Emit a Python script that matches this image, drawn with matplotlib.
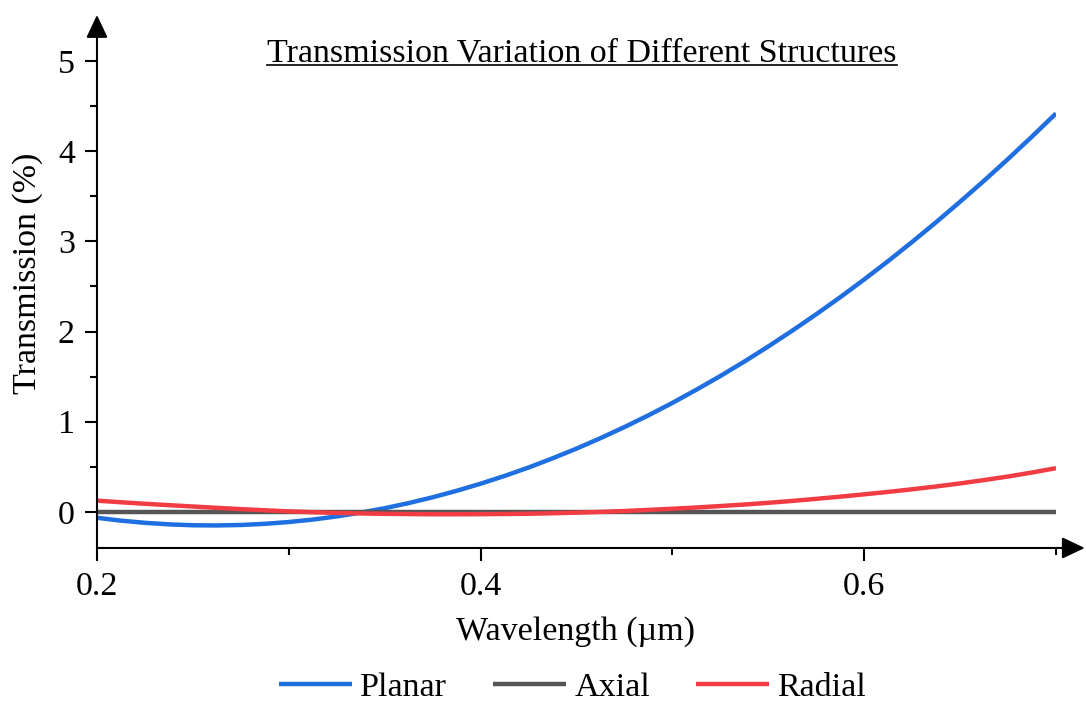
import numpy as np
import matplotlib
matplotlib.use('Agg')
import matplotlib.pyplot as plt
from matplotlib.ticker import MultipleLocator
from matplotlib.lines import Line2D

plt.rcParams['font.family'] = ['Liberation Serif', 'DejaVu Serif']

# wavelength grid (um), 0.0125 step
wavelength = [0.2000, 0.2125, 0.2250, 0.2375, 0.2500, 0.2625, 0.2750, 0.2875, 0.3000, 0.3125,
              0.3250, 0.3375, 0.3500, 0.3625, 0.3750, 0.3875, 0.4000, 0.4125, 0.4250, 0.4375,
              0.4500, 0.4625, 0.4750, 0.4875, 0.5000, 0.5125, 0.5250, 0.5375, 0.5500, 0.5625,
              0.5750, 0.5875, 0.6000, 0.6125, 0.6250, 0.6375, 0.6500, 0.6625, 0.6750, 0.6875,
              0.7000]

# transmission (%) for each structure
planar = [-0.065, -0.097, -0.121, -0.138, -0.148, -0.150, -0.145, -0.132, -0.112, -0.085,
          -0.050, -0.008, 0.041, 0.098, 0.162, 0.234, 0.313, 0.399, 0.492, 0.594,
          0.702, 0.818, 0.941, 1.071, 1.209, 1.355, 1.507, 1.667, 1.835, 2.010,
          2.192, 2.381, 2.578, 2.782, 2.994, 3.213, 3.440, 3.673, 3.914, 4.163,
          4.419]
axial = [0.0] * len(wavelength)
radial = [0.125, 0.107, 0.090, 0.075, 0.060, 0.045, 0.031, 0.018, 0.006, -0.003,
          -0.011, -0.017, -0.021, -0.024, -0.026, -0.026, -0.025, -0.023, -0.020, -0.015,
          -0.008, 0.000, 0.010, 0.022, 0.035, 0.049, 0.065, 0.082, 0.101, 0.122,
          0.145, 0.169, 0.195, 0.222, 0.251, 0.282, 0.316, 0.353, 0.393, 0.437,
          0.485]

series_names = ['Planar', 'Axial', 'Radial']
series_colors = ['#1f6fe0', '#555555', '#f03c42']

fs = 24.5

fig = plt.figure(figsize=(10.86, 7.02), dpi=100)
ax = fig.add_axes([0.0893, 0.2194, 0.8831, 0.7322])

for vals, name, col in zip([planar, axial, radial], series_names, series_colors):
    ax.plot(wavelength, vals, color=col, lw=3.2, label=name, solid_capstyle='butt')

ax.set_xlim(0.2, 0.7)
ax.set_ylim(-0.4, 5.3)

ax.xaxis.set_major_locator(MultipleLocator(0.2))
ax.xaxis.set_minor_locator(MultipleLocator(0.1))
ax.yaxis.set_major_locator(MultipleLocator(1))
ax.yaxis.set_minor_locator(MultipleLocator(0.5))
ax.xaxis.set_major_formatter(plt.FuncFormatter(lambda v, p: '%.1f' % v))

ax.tick_params(which='major', length=9, width=1.5, labelsize=fs, direction='out')
ax.tick_params(which='minor', length=5, width=1.5, direction='out')
ax.tick_params(axis='x', which='major', pad=8)
ax.tick_params(axis='y', which='major', pad=7)

for s in ['top', 'right', 'bottom', 'left']:
    ax.spines[s].set_visible(False)

# axis lines with arrow heads
arrow = dict(arrowstyle='-|>,head_length=0.7,head_width=0.33', color='black',
             lw=1.5, shrinkA=0, shrinkB=0, mutation_scale=20)
ax.annotate('', xy=(1.030, 0), xytext=(0, 0), xycoords='axes fraction',
            textcoords='axes fraction', arrowprops=arrow, annotation_clip=False)
ax.annotate('', xy=(0, 1.037), xytext=(0, 0), xycoords='axes fraction',
            textcoords='axes fraction', arrowprops=arrow, annotation_clip=False)

fig.text(0.5295, 0.0997, 'Wavelength (µm)', fontsize=fs, ha='center', va='center')
fig.text(0.0258, 0.61, 'Transmission (%)', fontsize=fs, ha='center', va='center',
         rotation=90)

title_y = 0.9117
title = fig.text(0.536, title_y, 'Transmission Variation of Different Structures',
                 fontsize=fs, ha='center', va='baseline')

fig.legend(loc='center', bbox_to_anchor=(0.527, 0.02), ncol=3, frameon=False,
           fontsize=fs, handlelength=2.15, handletextpad=0.24, columnspacing=1.35)

# underline the title
fig.canvas.draw()
bb = title.get_window_extent().transformed(fig.transFigure.inverted())
uy = title_y - 0.0045
fig.add_artist(Line2D([bb.x0, bb.x1], [uy, uy], color='black', lw=1.2,
                      transform=fig.transFigure))

fig.savefig('out.png', dpi=100)
